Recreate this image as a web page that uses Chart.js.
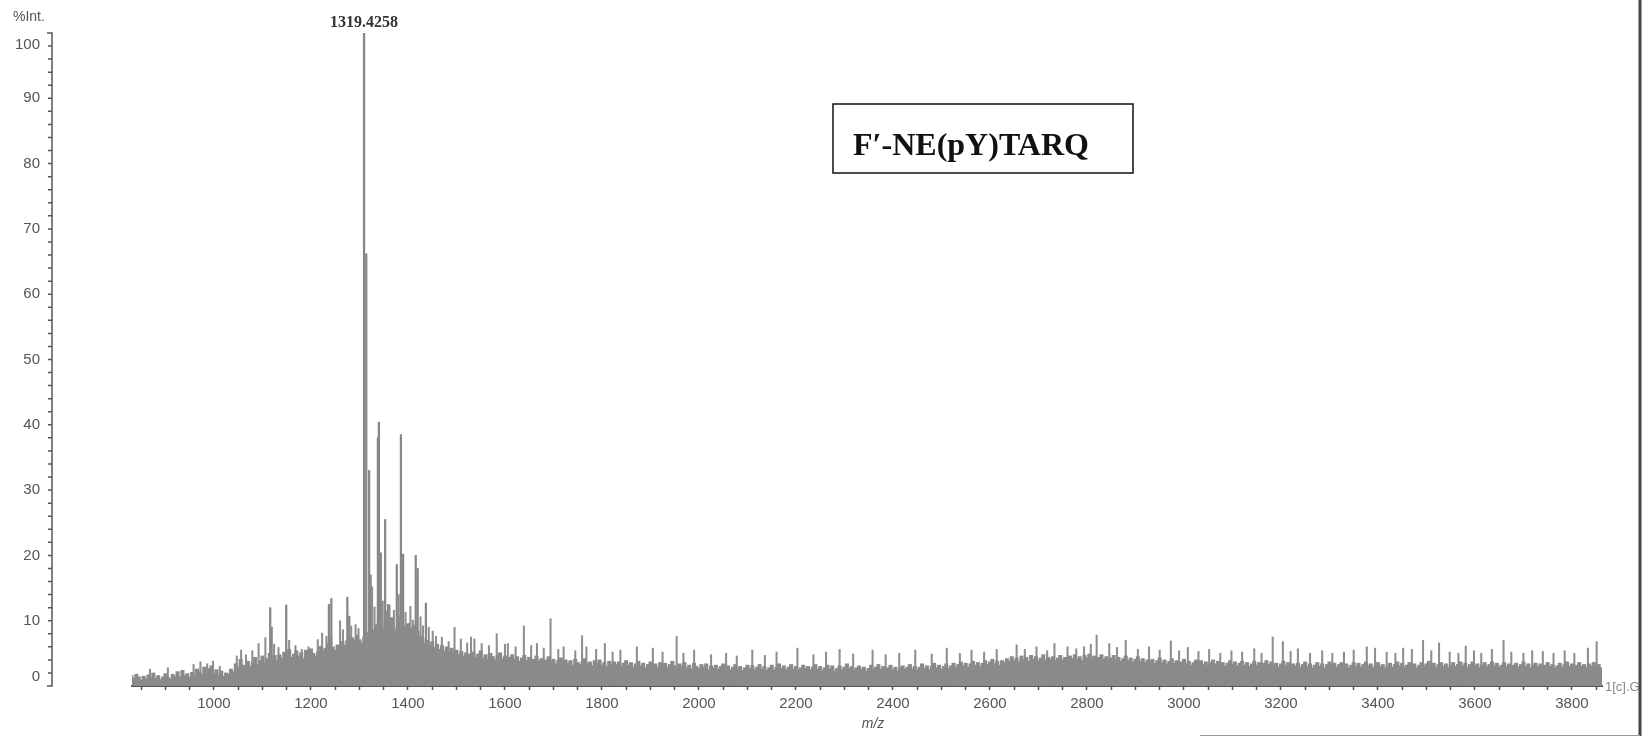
<!DOCTYPE html>
<html>
<head>
<meta charset="utf-8">
<script src="https://cdn.jsdelivr.net/npm/chart.js@4"></script>
<style>
  html, body { margin: 0; padding: 0; background: #ffffff; }
  #sim_container { position: relative; width: 1650px; height: 736px; }
</style>
</head>
<body>
<div id="sim_container"><canvas id="grafica"></canvas></div>
<script>
/* Spectrum data (m/z vs %Int.) */

// dense noise "grass", one value every grassStep m/z starting at grassStart
let grassStart = 830;
let grassStep = 5;
let grass = [
  1.6, 1.2, 1.8, 1.4, 0.9, 1.5, 1.1, 1.7, 1.3, 2.0, 1.2, 1.6, 1.0, 1.4, 1.9, 1.3, 1.1, 1.8, 1.5, 2.2,
  1.4, 2.4, 1.6, 1.9, 1.3, 2.1, 1.7, 2.6, 2.2, 1.8, 2.9, 2.0, 2.7, 3.1, 1.9, 2.5, 1.6, 2.3, 1.5, 2.0,
  1.8, 2.6, 2.2, 3.4, 2.9, 4.1, 3.2, 2.7, 3.8, 3.0, 3.6, 4.4, 3.3, 3.9, 4.6, 3.5, 4.2, 5.0, 4.1, 4.7,
  3.9, 4.8, 4.3, 5.2, 4.5, 5.6, 4.4, 4.9, 5.4, 4.6, 5.1, 4.2, 5.5, 4.8, 5.7, 5.0, 4.6, 5.3, 6.1, 5.4,
  5.8, 6.6, 7.2, 6.0, 5.5, 6.3, 5.9, 6.8, 6.2, 7.0, 6.5, 7.4, 6.9, 7.8, 7.1, 6.6, 7.5, 8.2, 7.6, 8.4,
  8.6, 9.4, 10.2, 9.1, 8.8, 11.5, 9.6, 10.4, 9.0, 8.5, 9.8, 10.6, 9.2, 8.7, 9.5, 8.9, 8.1, 9.3, 8.4, 7.6,
  7.2, 6.5, 7.0, 6.1, 6.8, 5.9, 6.4, 5.6, 6.2, 5.4, 6.0, 5.2, 5.8, 5.0, 5.5, 4.8, 5.3, 4.6, 5.1, 4.9,
  4.6, 5.2, 4.4, 4.9, 5.4, 4.3, 4.8, 4.1, 5.0, 4.5, 4.0, 4.7, 5.1, 4.2, 4.6, 3.9, 4.4, 4.8, 4.1, 4.5,
  3.8, 4.3, 4.7, 3.9, 4.4, 3.6, 4.1, 4.6, 3.8, 4.2, 3.5, 4.0, 4.5, 3.7, 4.1, 3.4, 3.9, 4.3, 3.6, 4.0,
  3.5, 3.9, 3.2, 4.1, 3.6, 3.3, 3.8, 4.2, 3.4, 3.7, 3.1, 3.9, 3.5, 4.0, 3.2, 3.6, 3.0, 3.8, 3.4, 3.7,
  3.3, 3.7, 3.0, 3.5, 3.9, 3.2, 3.6, 2.9, 3.4, 3.8, 3.1, 3.5, 2.8, 3.3, 3.7, 3.0, 3.4, 2.9, 3.6, 3.2,
  3.5, 2.9, 3.3, 3.8, 3.1, 2.7, 3.4, 3.0, 3.6, 2.8, 3.2, 2.6, 3.5, 3.0, 2.7, 3.3, 2.9, 3.4, 2.5, 3.1,
  2.8, 3.2, 2.6, 3.0, 3.4, 2.7, 3.1, 2.5, 2.9, 3.3, 2.6, 3.0, 2.4, 2.8, 3.2, 2.7, 3.1, 2.5, 2.9, 3.3,
  2.6, 3.0, 2.4, 2.8, 3.2, 2.5, 2.9, 3.4, 2.7, 3.1, 2.5, 2.9, 3.3, 2.6, 3.0, 2.4, 2.8, 3.2, 2.7, 3.0,
  2.5, 2.9, 3.3, 2.6, 3.0, 2.4, 2.8, 3.2, 2.6, 3.1, 2.3, 2.7, 3.1, 2.5, 2.9, 3.4, 2.7, 3.0, 2.4, 2.8,
  3.1, 2.6, 2.9, 2.3, 2.7, 3.2, 2.5, 2.9, 3.3, 2.6, 3.0, 2.4, 2.8, 3.2, 2.5, 2.9, 2.3, 2.8, 3.1, 2.6,
  2.9, 3.3, 2.6, 3.0, 2.5, 2.9, 3.4, 2.7, 3.1, 2.5, 3.0, 3.5, 2.8, 3.2, 2.6, 3.0, 3.4, 2.7, 3.1, 3.5,
  2.9, 3.3, 3.7, 3.1, 3.5, 2.9, 3.4, 3.8, 3.2, 3.6, 3.0, 3.5, 3.9, 3.3, 3.7, 4.1, 3.4, 3.8, 3.2, 3.9,
  3.6, 4.2, 3.8, 4.5, 3.9, 4.3, 3.7, 4.6, 4.0, 4.4, 3.8, 4.7, 4.1, 4.5, 3.9, 4.3, 4.8, 4.0, 4.4, 4.1,
  4.5, 3.9, 4.3, 4.7, 4.0, 4.4, 3.8, 4.6, 4.2, 4.8, 4.1, 4.5, 3.9, 4.7, 4.3, 4.9, 4.2, 4.6, 4.0, 4.4,
  4.8, 4.1, 4.5, 3.9, 4.3, 4.7, 4.0, 4.4, 3.8, 4.2, 4.6, 3.9, 4.3, 3.7, 4.1, 4.5, 3.8, 4.2, 3.6, 4.0,
  3.7, 4.1, 3.5, 3.9, 4.3, 3.6, 4.0, 3.4, 3.8, 4.2, 3.5, 3.9, 3.3, 3.7, 4.1, 3.4, 3.8, 3.2, 3.6, 4.0,
  3.5, 3.9, 3.3, 3.7, 3.1, 3.6, 4.0, 3.4, 3.8, 3.2, 3.6, 3.0, 3.5, 3.9, 3.3, 3.7, 3.1, 3.5, 3.8, 3.2,
  3.6, 3.0, 3.4, 3.8, 3.2, 3.6, 3.0, 3.5, 3.9, 3.3, 3.7, 3.1, 3.5, 2.9, 3.4, 3.8, 3.2, 3.6, 3.0, 3.4,
  3.1, 3.5, 2.9, 3.3, 3.7, 3.0, 3.4, 2.8, 3.2, 3.6, 3.0, 3.4, 2.8, 3.3, 3.7, 3.1, 3.5, 2.9, 3.3, 3.6,
  3.0, 3.4, 2.8, 3.2, 3.6, 3.0, 3.5, 2.9, 3.3, 3.7, 3.1, 3.4, 2.8, 3.2, 3.6, 3.0, 3.3, 2.7, 3.1, 3.5,
  2.9, 3.3, 3.7, 3.1, 3.5, 2.9, 3.2, 3.6, 3.0, 3.4, 2.8, 3.2, 3.6, 3.0, 3.4, 3.8, 3.1, 3.5, 2.9, 3.3,
  3.6, 3.0, 3.4, 2.8, 3.2, 3.6, 3.0, 3.3, 3.7, 3.1, 3.5, 2.9, 3.3, 3.7, 3.0, 3.4, 2.8, 3.2, 3.6, 3.0,
  3.3, 3.7, 3.1, 3.5, 2.9, 3.2, 3.6, 3.0, 3.4, 2.8, 3.2, 3.5, 2.9, 3.3, 3.7, 3.0, 3.4, 2.8, 3.2, 3.5,
  3.0, 3.4, 2.8, 3.2, 3.6, 3.0, 3.3, 2.7, 3.1, 3.5, 2.9, 3.3, 3.7, 3.0, 3.4, 2.8, 3.2, 3.6, 3.0, 3.3,
  2.9, 3.4, 3.1, 3.6, 3.0, 3.3, 2.8
];

// thin noise lines sticking out of the grass
let spikeMz = [
  868, 905, 958, 972, 986, 998, 1012, 1047, 1056, 1066, 1079, 1092, 1106, 1124, 1133, 1155, 1168, 1181, 1195, 1214,
  1223, 1232, 1260, 1266, 1283, 1292, 1298, 1326, 1331, 1348, 1356, 1362, 1366, 1371, 1381, 1395, 1401, 1405, 1410, 1426,
  1431, 1443, 1451, 1458, 1470, 1484, 1496, 1509, 1522, 1530, 1537, 1552, 1567, 1583, 1600, 1606, 1622, 1639, 1654, 1666,
  1680, 1694, 1710, 1721, 1745, 1759, 1768, 1788, 1806, 1822, 1838, 1872, 1905, 1925, 1954, 1968, 1990, 2025, 2056, 2078,
  2110, 2136, 2160, 2203, 2236, 2262, 2290, 2318, 2358, 2385, 2413, 2446, 2480, 2511, 2538, 2562, 2588, 2614, 2655, 2672,
  2696, 2718, 2733, 2760, 2778, 2794, 2808, 2820, 2846, 2862, 2880, 2905, 2928, 2950, 2973, 2990, 3008, 3030, 3052, 3075,
  3098, 3120, 3145, 3160, 3183, 3204, 3220, 3235, 3260, 3285, 3306, 3330, 3350, 3377, 3394, 3418, 3436, 3452, 3470, 3493,
  3510, 3526, 3548, 3566, 3581, 3598, 3613, 3635, 3659, 3675, 3700, 3718, 3740, 3762, 3785, 3805, 3833, 3851
];
let spikeInt = [
  2.6, 2.8, 3.3, 3.7, 3.4, 3.8, 3.0, 4.6, 5.5, 4.8, 5.4, 6.5, 7.4, 6.4, 5.9, 7.0, 6.2, 5.6, 6.0, 7.1,
  8.1, 7.6, 10.0, 8.6, 9.2, 9.4, 8.8, 15.2, 12.1, 13.0, 11.2, 12.4, 10.5, 11.6, 14.0, 11.3, 9.6, 12.2, 10.1, 10.6,
  9.2, 9.0, 8.4, 7.6, 7.5, 6.8, 9.0, 7.2, 6.6, 7.5, 7.2, 6.5, 6.2, 8.0, 6.4, 6.5, 6.0, 9.2, 6.2, 6.5,
  5.8, 10.3, 5.6, 6.0, 5.4, 7.7, 6.0, 5.6, 6.5, 5.2, 5.5, 6.0, 5.8, 5.2, 7.6, 5.0, 5.5, 4.8, 5.0, 4.6,
  5.5, 4.7, 5.2, 5.8, 4.8, 5.2, 5.6, 4.9, 5.5, 4.8, 5.0, 5.5, 4.9, 5.8, 5.0, 5.5, 5.2, 5.6, 6.3, 5.6,
  6.0, 5.4, 6.5, 6.0, 5.7, 6.0, 6.4, 7.8, 6.5, 5.9, 7.0, 5.6, 6.0, 5.5, 6.9, 5.4, 5.9, 5.3, 5.6, 5.0,
  5.4, 5.2, 5.7, 5.0, 7.5, 6.8, 5.3, 5.7, 5.0, 5.4, 5.0, 5.2, 5.5, 6.0, 5.8, 5.2, 5.0, 5.8, 5.6, 7.0,
  5.4, 6.6, 5.2, 5.0, 6.1, 5.4, 5.0, 5.6, 7.0, 5.2, 5.0, 5.4, 5.3, 5.0, 5.4, 5.0, 5.8, 6.8
];

// main peaks
let peakMz  = [1309.5, 1314, 1320, 1323, 1338, 1340, 1344, 1353, 1359, 1377, 1385.5, 1390, 1416, 1420, 1437, 1116, 1119, 1149, 1237, 1242, 1275, 1279];
let peakInt = [100, 66.2, 33.0, 17.0, 38.0, 40.4, 20.4, 25.5, 12.5, 18.6, 38.5, 20.2, 20.0, 18.0, 12.7, 12.0, 9.0, 12.4, 12.5, 13.4, 13.6, 10.7];
let peakLabel = '1319.4258';
let compoundName = 'F\u2032-NE(pY)TARQ';

/* Axes */
let xMin = 831;
let xMax = 3862;
let xLabelStep = 200;
let xMinorStep = 50;
let yMax = 100;
let yLabels = [0, 10, 20, 30, 40, 50, 60, 70, 80, 90, 100];
let yMinorStep = 2;

let grafica;

function toPoints(xs, ys) {
    return xs.map((x, i) => ({ x: x, y: ys[i] }));
}

function grassPoints() {
    return grass.map((v, i) => ({ x: grassStart + i * grassStep, y: v }));
}

// draws the detached y axis, the labels, box and the frame
let decor = {
    id: 'decor',
    afterDraw(chart) {
        let ctx = chart.ctx;
        let xs = chart.scales.x;
        let ys = chart.scales.y;
        let axisX = 52;
        let top = ys.getPixelForValue(yMax);
        let bottom = ys.getPixelForValue(0);
        ctx.save();

        // y axis (bracket)
        ctx.strokeStyle = '#555';
        ctx.lineWidth = 1.5;
        ctx.beginPath();
        ctx.moveTo(axisX - 5, top);
        ctx.lineTo(axisX, top);
        ctx.lineTo(axisX, bottom);
        ctx.lineTo(axisX - 5, bottom);
        for (let v = yMinorStep; v < yMax; v += yMinorStep) {
            let p = ys.getPixelForValue(v);
            ctx.moveTo(axisX - 4, p);
            ctx.lineTo(axisX, p);
        }
        ctx.stroke();

        ctx.fillStyle = '#555';
        ctx.font = '15px "Liberation Sans", Arial, sans-serif';
        ctx.textAlign = 'right';
        ctx.textBaseline = 'middle';
        yLabels.forEach(v => {
            let p = ys.getPixelForValue(v);
            p = Math.min(Math.max(p, top + 12), bottom - 9);
            ctx.fillText(String(v), axisX - 12, p);
        });
        ctx.font = '14px "Liberation Sans", Arial, sans-serif';
        ctx.textAlign = 'left';
        ctx.fillText('%Int.', 13, 17);

        // x axis title
        ctx.font = 'italic 14px "Liberation Sans", Arial, sans-serif';
        ctx.textAlign = 'center';
        ctx.fillText('m/z', 873, 724);

        // peak label
        ctx.fillStyle = '#333';
        ctx.font = 'bold 16px "Liberation Serif", "Times New Roman", serif';
        ctx.textAlign = 'center';
        ctx.fillText(peakLabel, xs.getPixelForValue(peakMz[0]), 23);

        // compound box
        ctx.strokeStyle = '#111';
        ctx.lineWidth = 1.5;
        ctx.strokeRect(833, 104, 300, 69);
        ctx.fillStyle = '#111';
        ctx.font = 'bold 32px "Liberation Serif", "Times New Roman", serif';
        ctx.textAlign = 'left';
        ctx.textBaseline = 'alphabetic';
        ctx.fillText(compoundName, 853, 155);

        // trace name, cut by the frame
        ctx.save();
        ctx.beginPath();
        ctx.rect(0, 0, 1639, 736);
        ctx.clip();
        ctx.fillStyle = '#888';
        ctx.font = '13px "Liberation Sans", Arial, sans-serif';
        ctx.textBaseline = 'middle';
        ctx.fillText('1[c].G', 1605, 687);
        ctx.restore();

        // frame on the right and bottom
        ctx.strokeStyle = '#444';
        ctx.lineWidth = 3;
        ctx.beginPath();
        ctx.moveTo(1640, 0);
        ctx.lineTo(1640, 736);
        ctx.stroke();
        ctx.strokeStyle = '#999';
        ctx.lineWidth = 1;
        ctx.beginPath();
        ctx.moveTo(1200, 735.5);
        ctx.lineTo(1640, 735.5);
        ctx.stroke();

        ctx.restore();
    }
};

function crearGrafica() {
    let ctx = document.getElementById('grafica').getContext('2d');
    grafica = new Chart(ctx, {
        type: 'bar',
        data: {
            datasets: [{
                label: 'grass',
                data: grassPoints(),
                backgroundColor: '#8a8a8a',
                barThickness: 3.4,
                grouped: false,
                order: 0
            }, {
                label: 'spikes',
                data: toPoints(spikeMz, spikeInt),
                backgroundColor: '#8f8f8f',
                barThickness: 1.4,
                grouped: false,
                order: 1
            }, {
                label: 'peaks',
                data: toPoints(peakMz, peakInt),
                backgroundColor: '#878787',
                barThickness: 1.6,
                grouped: false,
                order: 2
            }]
        },
        options: {
            responsive: true,
            maintainAspectRatio: false,
            animation: false,
            layout: {
                padding: { left: 132, right: 48, top: 33, bottom: 0 }
            },
            plugins: {
                legend: { display: false },
                tooltip: { enabled: false }
            },
            scales: {
                x: {
                    type: 'linear',
                    min: xMin,
                    max: xMax,
                    offset: false,
                    grid: {
                        drawOnChartArea: false,
                        drawTicks: true,
                        tickLength: 4,
                        tickColor: '#555',
                        tickWidth: 1.5,
                        offset: false
                    },
                    border: { display: true, color: '#555', width: 2 },
                    ticks: {
                        stepSize: xMinorStep,
                        autoSkip: false,
                        includeBounds: false,
                        maxRotation: 0,
                        padding: 5,
                        color: '#555',
                        font: { family: '"Liberation Sans", Arial, sans-serif', size: 15 },
                        callback: v => (Math.round(v) % xLabelStep === 0 ? String(Math.round(v)) : '')
                    },
                    afterFit: s => { s.height = 50; }
                },
                y: {
                    display: false,
                    min: 0,
                    max: yMax
                }
            }
        },
        plugins: [decor]
    });
}

crearGrafica();
</script>
</body>
</html>
